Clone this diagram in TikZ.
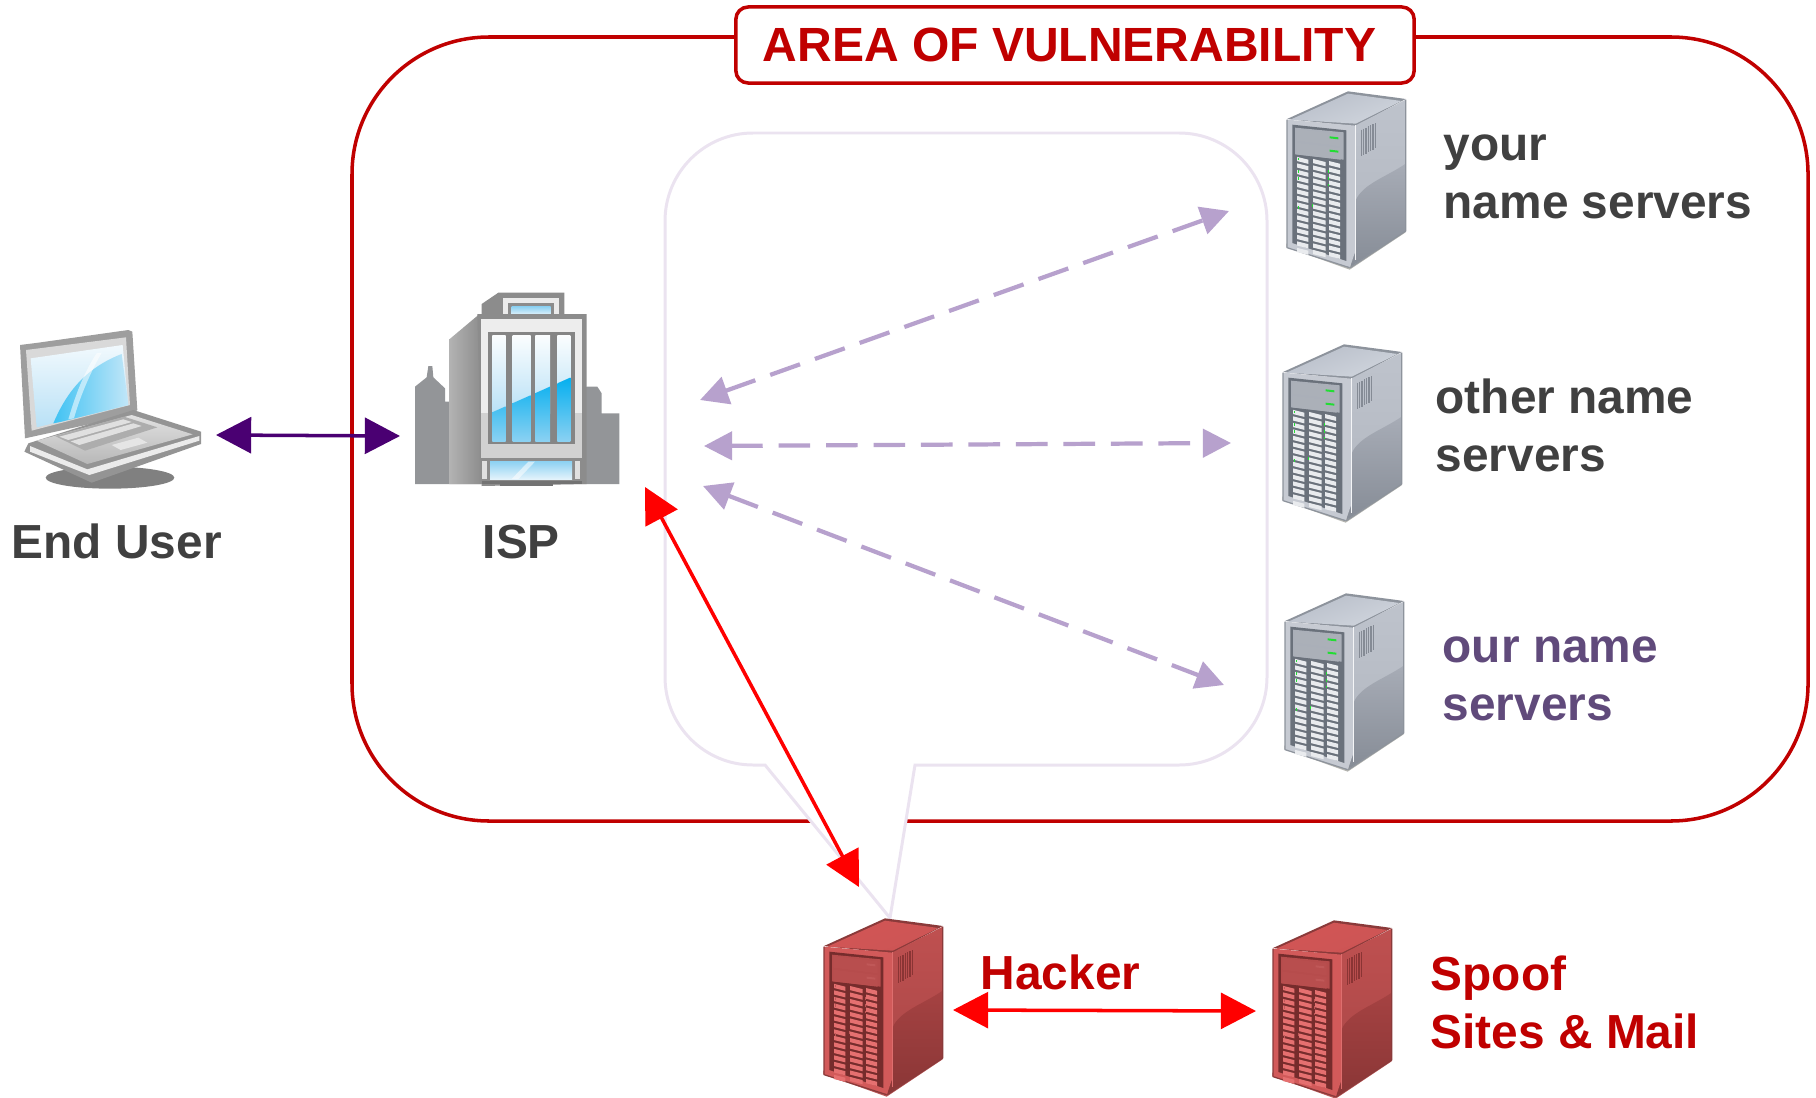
\documentclass[tikz,border=0pt]{standalone}
\usepackage{fontspec}
\setmainfont{Liberation Sans}
\usetikzlibrary{arrows.meta}
\definecolor{vulnred}{HTML}{C00000}
\definecolor{darktxt}{HTML}{404040}
\definecolor{ourtxt}{HTML}{604A7B}
\definecolor{lav}{HTML}{B7A1CD}
\definecolor{calloutc}{HTML}{EBE3F0}
\definecolor{purp}{HTML}{4A0072}
\definecolor{bgrey}{HTML}{939598}
\definecolor{paneA}{HTML}{B9E1F6}
\definecolor{paneB}{HTML}{00AEEF}
\definecolor{paneC}{HTML}{8FD2F2}
\tikzset{
  lbl/.style={font=\fontsize{13.6}{16.5}\selectfont\bfseries,inner sep=0pt,align=left,anchor=north west},
  onelbl/.style={font=\fontsize{13.6}{16}\selectfont\bfseries,inner sep=0pt,anchor=base west},
  dasharrow/.style={lav,line width=1.2pt,dash pattern=on 9pt off 4.5pt,{Triangle[length=8pt,width=8pt]}-{Triangle[length=8pt,width=8pt]}},
  bigarrow/.style={line width=1pt,{Triangle[length=10pt,width=10.2pt]}-{Triangle[length=10pt,width=10.2pt]}},
}
% one tower server; coordinates are those of a 3x view, (82,65) is the icon's top left corner
\newcommand{\towerserver}[2]{%
\begin{scope}[shift={({#1-82/3},{#2-65/3})},scale=1/3,line join=round]
  \fill[srvBase] (80,530) -- (270,598) -- (438,486) -- (438,470) -- (80,520) -- cycle;
  % top
  \fill[srvEdge] (82,146) -- (265,63) -- (410,82) -- (438,86) -- (288,168) -- cycle;
  \shade[left color=srvTopA,right color=srvTopB,shading angle=20] (92,148) -- (265,70) -- (425,92) -- (288,160) -- cycle;
  % side
  \shade[top color=srvSideA,bottom color=srvSideB] (288,165) -- (438,88) -- (438,300) -- (288,400) -- cycle;
  \shade[top color=srvSideC,bottom color=srvSideD] (288,390) .. controls (310,340) and (380,320) .. (438,280) -- (438,482) -- (272,590) -- (288,520) -- cycle;
  \draw[srvEdge,line width=0.35pt] (438,88) -- (438,482) -- (272,592);
  \foreach \i in {0,...,6} \draw[srvVent,line width=0.3pt] ({305+\i*7},{178-\i*3.2}) -- ({305+\i*7},{258-\i*4});
  % front
  \fill[srvFront] (82,148) -- (288,166) -- (288,540) -- (270,592) -- (82,532) -- cycle;
  \draw[srvEdge,line width=0.35pt] (82,148) -- (82,532) -- (270,592);
  \draw[srvHi,line width=0.3pt] (288,165) -- (288,570);
  \fill[srvBezel] (98,163) -- (260,180) -- (260,572) -- (98,518) -- cycle;
  \fill[srvFront!70!srvBezel] (106,172) -- (252,186) -- (252,268) -- (106,252) -- cycle;
  \fill[srvBay] (110,176) -- (243,192) -- (243,228) -- (110,211) -- cycle;
  \fill[srvBay] (110,217) -- (243,233) -- (243,268) -- (110,252) -- cycle;
  \fill[srvLed] (210,198) -- (236,201) -- (236,207) -- (210,204) -- cycle;
  \fill[srvLed] (210,238) -- (236,241) -- (236,247) -- (210,244) -- cycle;
  \foreach \r in {0,...,14} \foreach \cx/\cw in {112/34,160/38,208/33} {
    \fill[srvDrive] (\cx,{258+\r*19.5+(\cx-100)*0.13}) -- ++(\cw,{\cw*0.25}) -- ++(0,12.5) -- ++(-\cw,{-\cw*0.25}) -- cycle;
  }
  \foreach \lx/\ly in {115/262,115/300,115/320,115/408,156/402,204/300,204/340,204/320} \fill[srvLed] (\lx,\ly) rectangle ++(3,8);
\end{scope}}
\newcommand{\greyserver}{%
  \definecolor{srvBase}{HTML}{B5B5B0}\definecolor{srvEdge}{HTML}{8D939C}\definecolor{srvTopA}{HTML}{B8BEC9}\definecolor{srvTopB}{HTML}{D0D5DD}
  \definecolor{srvSideA}{HTML}{BEC3CC}\definecolor{srvSideB}{HTML}{B6BBC4}\definecolor{srvSideC}{HTML}{A7ACB6}\definecolor{srvSideD}{HTML}{868C96}
  \definecolor{srvVent}{HTML}{858B95}\definecolor{srvFront}{HTML}{C6CAD2}\definecolor{srvHi}{HTML}{F4F5F7}\definecolor{srvBezel}{HTML}{6A717B}
  \definecolor{srvBay}{HTML}{ABB0B8}\definecolor{srvLed}{HTML}{22DD33}\definecolor{srvDrive}{HTML}{E9EBEE}}
\newcommand{\redserver}{%
  \definecolor{srvBase}{HTML}{B85858}\definecolor{srvEdge}{HTML}{8A3A3A}\definecolor{srvTopA}{HTML}{D25656}\definecolor{srvTopB}{HTML}{CC5454}
  \definecolor{srvSideA}{HTML}{BF5050}\definecolor{srvSideB}{HTML}{B04A4A}\definecolor{srvSideC}{HTML}{A54242}\definecolor{srvSideD}{HTML}{8A3636}
  \definecolor{srvVent}{HTML}{8A3434}\definecolor{srvFront}{HTML}{D25A5A}\definecolor{srvHi}{HTML}{DE6E6E}\definecolor{srvBezel}{HTML}{762C2C}
  \definecolor{srvBay}{HTML}{B84E4E}\definecolor{srvLed}{HTML}{C05858}\definecolor{srvDrive}{HTML}{E57070}}
\begin{document}
\begin{tikzpicture}[x=0.01cm,y=-0.01cm]
\useasboundingbox (0,0) rectangle (1816,1097);
% vulnerability area
\draw[vulnred,line width=1pt,rounded corners=39pt] (352,37) rectangle (1808,821);
% callout
\draw[calloutc,fill=white,line width=0.85pt] (915,765) -- (1179,765) .. controls (1227.6,765) and (1267,725.6) .. (1267,677) -- (1267,221) .. controls (1267,172.4) and (1227.6,133) .. (1179,133) -- (753,133) .. controls (704.4,133) and (665,172.4) .. (665,221) -- (665,677) .. controls (665,725.6) and (704.4,765) .. (753,765) -- (765,765) -- (890,918) -- cycle;
% title
\node[font=\fontsize{13.65}{16}\selectfont\bfseries,text=vulnred,draw=vulnred,fill=white,line width=1pt,rounded corners=3.5pt,minimum width=678*0.2845pt,minimum height=76*0.2845pt,inner sep=0pt] (title) at (1075,45) {\hspace*{-3.1pt}AREA OF VULNERABILITY};
% laptop
\begin{scope}[shift={(0,310)},scale=1/3,line join=round]
  \fill[black!50] (330,503) ellipse [x radius=193,y radius=33];
  \fill[black!38] (60,105) -- (115,98) -- (385,60) -- (397,65) -- (412,300) -- (395,315) -- (75,385) -- cycle;
  \fill[white!85!black] (78,120) -- (378,82) -- (390,285) -- (95,362) -- cycle;
  \shade[top color=paneA!20!white,middle color=paneA,bottom color=paneA] (92,145) -- (368,105) -- (385,285) -- (110,352) -- cycle;
  \shade[left color=paneB!75!white,right color=paneC!55!white] (160,340) .. controls (190,270) and (240,180) .. (365,132) -- (385,285) -- (185,335) -- cycle;
  \fill[white,opacity=0.55] (205,328) .. controls (225,260) and (250,190) .. (290,130) -- (305,128) .. controls (270,190) and (240,260) .. (222,325) -- cycle;
  % base
  \fill[black!42] (85,400) -- (400,300) -- (603,365) -- (603,402) -- (275,518) -- (73,425) -- cycle;
  \shade[top color=black!12,bottom color=black!28] (110,392) -- (395,315) -- (578,373) -- (262,462) -- cycle;
  \fill[black!32] (165,378) -- (372,320) -- (472,352) -- (255,422) -- cycle;
  \fill[black!12] (178,380) -- (370,328) -- (395,336) -- (205,390) -- cycle;
  \fill[black!12] (212,394) -- (400,340) -- (425,348) -- (238,405) -- cycle;
  \fill[black!10] (335,405) -- (415,383) -- (442,398) -- (362,420) -- cycle;
  \fill[black!8] (90,408) -- (262,478) -- (598,378) -- (598,392) -- (268,495) -- (90,425) -- cycle;
\end{scope}
% building
\begin{scope}[shift={(400,280)},scale=1/3,line join=round]
  \fill[bgrey] (45,612) -- (45,320) -- (80,292) -- (85,258) -- (97,258) -- (100,292) -- (135,325) -- (135,365) -- (160,365) -- (500,365) -- (560,320) -- (592,320) -- (605,340) -- (605,400) -- (658,400) -- (658,612) -- cycle;
  \fill[black!45] (245,105) -- (245,72) -- (295,38) -- (493,38) -- (493,105) -- cycle;
  \fill[black!8] (308,55) -- (478,55) -- (478,105) -- (308,105) -- cycle;
  \fill[black!45] (325,70) -- (462,70) -- (462,105) -- (325,105) -- cycle;
  \shade[top color=paneC,bottom color=paneA!50!white] (335,80) rectangle (452,103);
  \shade[left color=black!30,right color=black!45] (148,178) -- (235,105) -- (245,612) -- (148,612) -- cycle;
  \fill[black!45] (232,102) -- (560,102) -- (560,612) -- (245,618) -- cycle;
  \fill[black!7] (243,118) -- (546,118) -- (546,400) -- (243,400) -- cycle;
  \fill[black!18] (243,400) -- (546,400) -- (546,535) -- (243,535) -- cycle;
  \fill[black!48] (263,155) rectangle (526,493);
  \foreach \a/\b in {277/317,338/392,406/450,472/511}{
    \begin{scope}
      \clip (\a,165) rectangle (\b,484);
      \shade[top color=white,bottom color=paneA] (263,150) rectangle (526,400);
      \shade[top color=paneB,bottom color=paneC] (263,403) -- (526,286) -- (526,490) -- (263,490) -- cycle;
    \end{scope}}
  \fill[black!12] (245,543) rectangle (262,598);
  \fill[black!12] (525,543) rectangle (541,598);
  \shade[top color=paneC,bottom color=paneA!40!white] (270,545) rectangle (516,597);
  \fill[white,opacity=0.55] (335,597) -- (385,545) -- (405,545) -- (355,597) -- cycle;
  \fill[black!55] (245,604) rectangle (545,612);
  \fill[black!55] (300,612) rectangle (460,619);
\end{scope}
% servers
\begin{scope}\greyserver
\towerserver{1287}{92}
\towerserver{1283}{345}
\towerserver{1285}{594}
\end{scope}
\begin{scope}\redserver
\towerserver{824}{919}
\towerserver{1273}{921}
\end{scope}
% connector ends
\coordinate (userEnd) at (216,435);
\coordinate (ispEnd) at (400,436);
\coordinate (hubA) at (700,400);
\coordinate (hubB) at (704,446);
\coordinate (hubC) at (703,486);
\coordinate (yours) at (1229,211);
\coordinate (others) at (1231,443);
\coordinate (ours) at (1224,685);
\coordinate (ispRed) at (645,487);
\coordinate (hackerTop) at (859,887);
\coordinate (hackerSide) at (953,1010);
\coordinate (spoofSide) at (1256,1011);
% connectors
\draw[purp,bigarrow] (userEnd) -- (ispEnd);
\foreach \a/\b in {hubA/yours,hubB/others,hubC/ours}
  \draw[dasharrow] (\a) -- (\b);
\draw[red,bigarrow] (ispRed) -- (hackerTop);
\draw[red,bigarrow] (hackerSide) -- (spoofSide);
% labels
\node[lbl,text=darktxt] (ylabel) at (1443,134) {your\\name servers};
\node[lbl,text=darktxt] (olabel) at (1435,378) {other name\\servers};
\node[lbl,text=ourtxt] (ulabel) at (1442,636) {our name\\servers};
\node[lbl,text=vulnred] (slabel) at (1430,955) {Spoof\\Sites \& Mail};
\node[onelbl,text=vulnred] (hlabel) at (980,989) {Hacker};
\node[onelbl,text=darktxt] (ulab) at (11,558) {End User};
\node[onelbl,text=darktxt] (isplab) at (482,558) {ISP};
\end{tikzpicture}
\end{document}
